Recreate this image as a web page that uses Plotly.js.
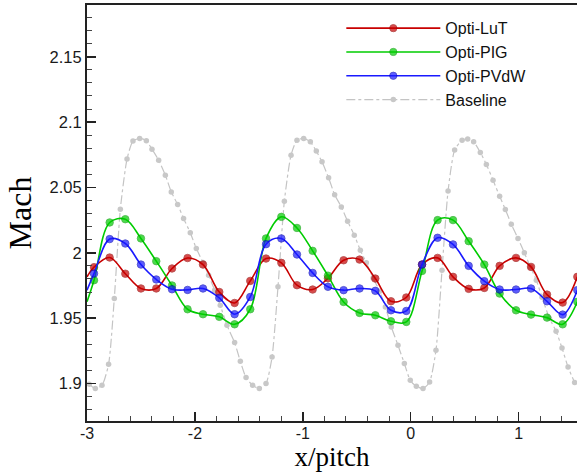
<!DOCTYPE html>
<html>
<head>
<meta charset="utf-8">
<script src="https://cdn.plot.ly/plotly-3.0.1.min.js"></script>
<style>html,body{margin:0;padding:0;background:#fff;}#chart{width:577px;height:474px;}</style>
</head>
<body>
<div id="chart"></div>
<script>
// Shared x positions for the optimized series (first point = left edge of curve, no marker)
var xOpt = [-3, -2.935, -2.79, -2.645, -2.50, -2.358, -2.212, -2.068, -1.925, -1.774, -1.632, -1.487, -1.341, -1.199, -1.054, -0.909, -0.767, -0.622, -0.474, -0.328, -0.183, -0.041, 0.105, 0.249, 0.392, 0.537, 0.682, 0.824, 0.976, 1.115, 1.263, 1.408, 1.544];
var machLuT = [1.9815, 1.989, 1.9964, 1.984, 1.9727, 1.9727, 1.988, 1.996, 1.991, 1.970, 1.9616, 1.9785, 1.9956, 1.9923, 1.9752, 1.9719, 1.9805, 1.9943, 1.9948, 1.9803, 1.9629, 1.9658, 1.991, 1.9961, 1.9816, 1.9724, 1.9731, 1.990, 1.9961, 1.9892, 1.968, 1.9619, 1.9816];
var machPIG = [1.9625, 1.979, 2.0232, 2.0257, 2.011, 1.9936, 1.975, 1.9568, 1.953, 1.951, 1.9453, 1.9568, 2.011, 2.0275, 2.019, 2.0015, 1.9825, 1.9624, 1.954, 1.9522, 1.9476, 1.9471, 1.9861, 2.025, 2.025, 2.0089, 1.991, 1.9688, 1.956, 1.9527, 1.9504, 1.9453, 1.9625];
var machPVdW = [1.9714, 1.9841, 2.0105, 2.0071, 1.991, 1.9796, 1.9721, 1.9716, 1.9727, 1.9655, 1.953, 1.9662, 2.0066, 2.011, 1.9987, 1.9846, 1.974, 1.9714, 1.9727, 1.9709, 1.956, 1.9555, 1.991, 2.0115, 2.0064, 1.990, 1.9783, 1.9719, 1.9719, 1.9727, 1.9629, 1.9527, 1.9714];

var xBase = [-2.98, -2.923, -2.861, -2.80, -2.747, -2.691, -2.629, -2.574, -2.512, -2.45, -2.398, -2.336, -2.274, -2.219, -2.160, -2.105, -2.043, -1.987, -1.925, -1.873, -1.817, -1.765, -1.703, -1.632, -1.579, -1.526, -1.465, -1.403, -1.341, -1.285, -1.230, -1.171, -1.109, -1.054, -0.992, -0.930, -0.875, -0.822, -0.761, -0.705, -0.643, -0.585, -0.523, -0.467, -0.411, -0.349, -0.288, -0.235, -0.180, -0.118, -0.059, -0.004, 0.052, 0.114, 0.175, 0.234, 0.290, 0.346, 0.407, 0.476, 0.528, 0.583, 0.645, 0.701, 0.763, 0.824, 0.877, 0.932, 0.994, 1.053, 1.109, 1.164, 1.217, 1.285, 1.347, 1.402, 1.458, 1.519];
var machBase = [1.8995, 1.8961, 1.8986, 1.9147, 1.965, 2.0334, 2.0717, 2.0855, 2.0875, 2.0857, 2.0793, 2.0709, 2.0594, 2.0466, 2.037, 2.0263, 2.0153, 2.0033, 1.9926, 1.9829, 1.9714, 1.9599, 1.9446, 1.9313, 1.917, 1.9045, 1.8986, 1.8961, 1.8999, 1.9203, 1.974, 2.0395, 2.0747, 2.0862, 2.0875, 2.0849, 2.0778, 2.0696, 2.0574, 2.0445, 2.0351, 2.0242, 2.0135, 2.002, 1.9923, 1.9808, 1.9706, 1.9586, 1.9433, 1.9293, 1.9153, 1.9024, 1.8979, 1.8961, 1.9012, 1.9254, 1.9867, 2.0472, 2.0786, 2.0862, 2.087, 2.0849, 2.0768, 2.0676, 2.0556, 2.0433, 2.0332, 2.0219, 2.011, 2.000, 1.9892, 1.979, 1.966, 1.950, 1.94, 1.9272, 1.9126, 1.9007];

var seriesNames = ['Opti-LuT', 'Opti-PIG', 'Opti-PVdW', 'Baseline'];
var xTickVals = [-3, -2, -1, 0, 1];
var xTickText = ['-3', '-2', '-1', '0', '1'];
var yTickVals = [1.9, 1.95, 2, 2.05, 2.1, 2.15];
var yTickText = ['1.9', '1.95', '2', '2.05', '2.1', '2.15'];

var optSizes = xOpt.map(function (v, i) { return i === 0 ? 0 : 7.5; });

function optTrace(name, y, color, edge, rank) {
  return {
    x: xOpt, y: y, name: name, type: 'scatter', mode: 'lines+markers',
    line: {color: color, width: 1.6, shape: 'spline', smoothing: 1},
    marker: {color: color, size: optSizes, line: {color: edge, width: 0.8}},
    legendrank: rank
  };
}

var data = [
  {
    x: xBase, y: machBase, name: seriesNames[3], type: 'scatter', mode: 'lines+markers',
    line: {color: '#c4c4c4', width: 1.2, dash: 'dashdot', shape: 'spline', smoothing: 0.6},
    marker: {color: '#c8c8c8', size: 5.5},
    legendrank: 4
  },
  optTrace(seriesNames[0], machLuT, '#c80000', '#900000', 1),
  optTrace(seriesNames[1], machPIG, '#00cc00', '#009900', 2),
  optTrace(seriesNames[2], machPVdW, '#1a1aff', '#0000b0', 3)
];

var tickFont = {family: 'Liberation Sans, Arial, sans-serif', size: 16.5, color: '#1a1a1a'};

var layout = {
  width: 577, height: 474,
  margin: {l: 87, r: 0, t: 5, b: 53},
  paper_bgcolor: '#ffffff', plot_bgcolor: '#ffffff',
  showlegend: true,
  legend: {
    x: 0.519, y: 0.985, xanchor: 'left', yanchor: 'top',
    bgcolor: 'rgba(0,0,0,0)', borderwidth: 0,
    itemwidth: 94,
    font: {family: 'Liberation Sans, Arial, sans-serif', size: 16, color: '#111'}
  },
  xaxis: {
    range: [-3, 1.541], tickmode: 'array', tickvals: xTickVals, ticktext: xTickText,
    ticks: 'inside', ticklen: 9, tickwidth: 1.5, tickcolor: '#222',
    ticklabelstandoff: -3,
    minor: {tickmode: 'linear', tick0: -3, dtick: 0.2, ticks: 'inside', ticklen: 5, tickwidth: 1, tickcolor: '#444'},
    showgrid: false, zeroline: false,
    showline: true, linecolor: '#222', linewidth: 2, mirror: true,
    tickfont: {family: 'Liberation Sans, Arial, sans-serif', size: 16, color: '#1a1a1a'},
    title: {text: 'x/pitch', font: {family: 'Liberation Serif, Times New Roman, serif', size: 27, color: '#000'}, standoff: 5}
  },
  yaxis: {
    range: [1.8713, 2.1896], tickmode: 'array', tickvals: yTickVals, ticktext: yTickText,
    ticks: 'inside', ticklen: 9, tickwidth: 1.5, tickcolor: '#222',
    minor: {tickmode: 'linear', tick0: 1.9, dtick: 0.01, ticks: 'inside', ticklen: 5, tickwidth: 1, tickcolor: '#444'},
    showgrid: false, zeroline: false,
    showline: true, linecolor: '#222', linewidth: 2, mirror: false,
    tickfont: tickFont,
    title: {text: 'Mach', font: {family: 'Liberation Serif, Times New Roman, serif', size: 32, color: '#000'}, standoff: 8}
  }
};

Plotly.newPlot('chart', data, layout, {displayModeBar: false, staticPlot: true});
</script>
</body>
</html>
